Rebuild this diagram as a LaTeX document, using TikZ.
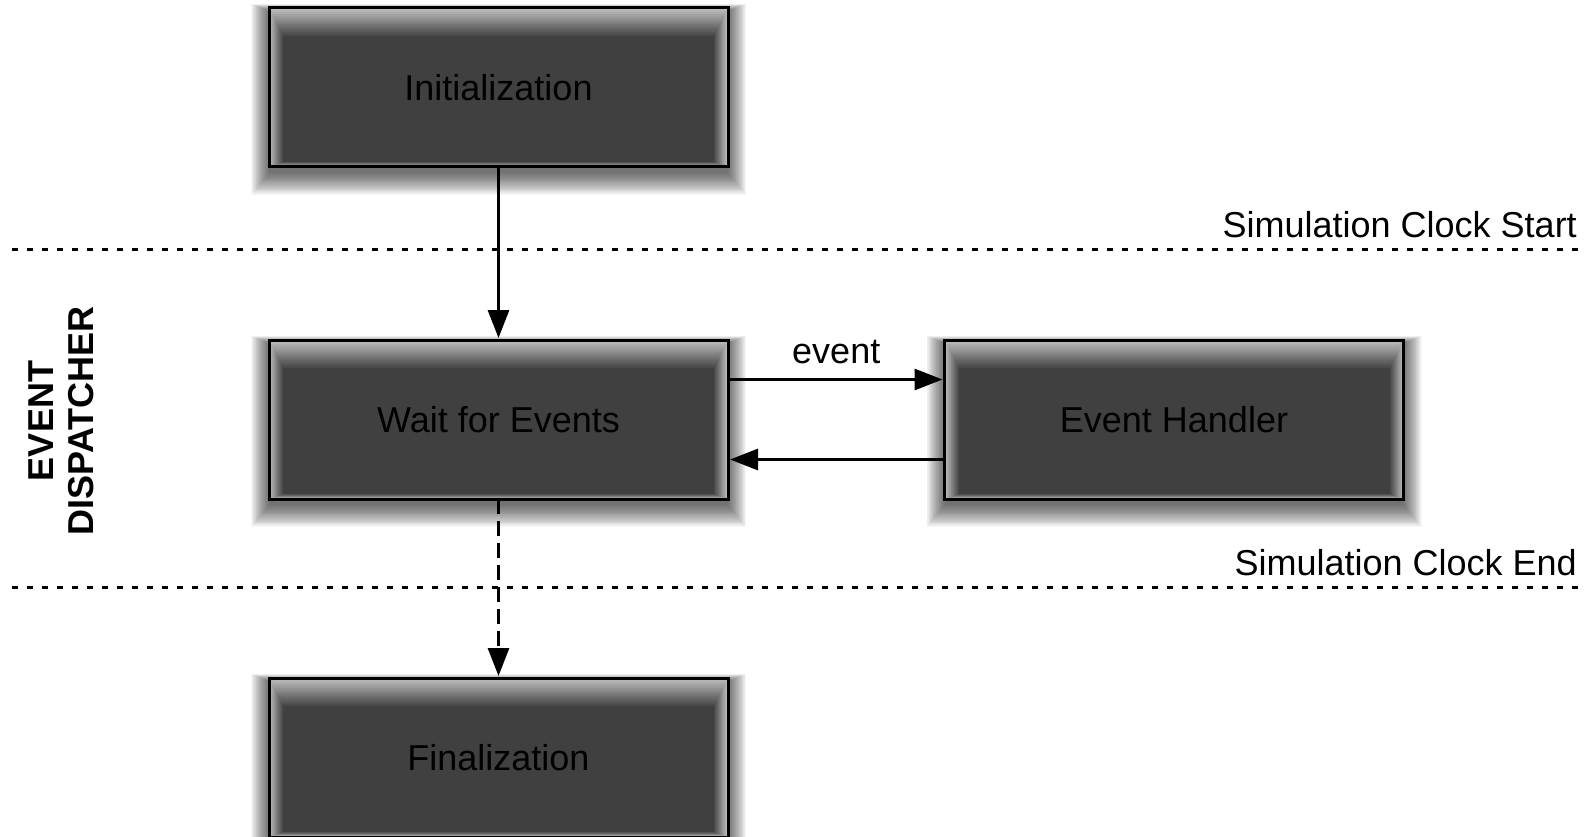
\documentclass[tikz,border=0pt]{standalone}
\usepackage{fontspec}
\setmainfont{Liberation Sans}
\usetikzlibrary{arrows.meta}
\pgfdeclarelayer{background}
\pgfsetlayers{background,main}
\definecolor{boxgray}{RGB}{64,64,64}
\definecolor{glowgray}{RGB}{190,190,190}
\tikzset{
  stagebox/.style={draw=black, line width=3pt, minimum width=459pt, minimum height=159pt,
    inner sep=0pt, outer sep=0pt, text=black, font=\fontsize{36}{42}\selectfont},
  flow/.style={line width=3pt, -{Triangle[length=28pt,width=21pt]}, shorten >=2pt},
  clockline/.style={line width=3pt, dash pattern=on 6pt off 9pt},
  clocklabel/.style={anchor=base east, inner sep=0pt, font=\fontsize{36}{42}\selectfont}
}

\begin{document}
\begin{tikzpicture}[x=1pt, y=-1pt]
  \useasboundingbox (0,0) rectangle (1595,837);
  % stages
  \node[stagebox] (init) at (498.5,87.5) {Initialization};
  \node[stagebox] (wait) at (498.5,419.5) {Wait for Events};
  \node[stagebox] (handler) at (1174,419.5) {Event Handler};
  \node[stagebox] (final) at (498.5,757.5) {Finalization};
  \begin{pgfonlayer}{background}
    \foreach \n in {init,wait,handler,final} {
      \foreach \i in {0,...,24}
        \fill[black, opacity=0.032] ([shift={(-18+0.75*\i,-4+0.3*\i)}]\n.north west) rectangle ([shift={(18-0.75*\i,28-0.9*\i)}]\n.south east); % drop shadow
      \foreach \i in {0,...,14} {
        \pgfmathtruncatemacro\mix{100*\i/14}
        \fill[boxgray!\mix!glowgray] ([shift={(1*\i,2*\i)}]\n.north west) rectangle ([shift={(-1*\i,-0.35*\i)}]\n.south east); % inner glow
      }
    }
  \end{pgfonlayer}
  % clock lines
  \coordinate (startL) at (12,249);
  \coordinate (startR) at (1578,249);
  \coordinate (endL) at (12,587);
  \coordinate (endR) at (1578,587);
  \draw[clockline] (startL) -- (startR);
  \draw[clockline] (endL) -- (endR);
  \node[clocklabel] (startlabel) at (1577,237) {Simulation Clock Start};
  \node[clocklabel] (endlabel) at (1577,575) {Simulation Clock End};
  % side label
  \node[rotate=90, align=center, font=\bfseries\fontsize{36}{40}\selectfont] (dispatcher) at (61,421) {EVENT\\DISPATCHER};
  % arrows
  \draw[flow] (init) -- (wait);
  \draw[flow] ([yshift=40pt]wait.east) -- node[above, inner sep=14pt, font=\fontsize{36}{42}\selectfont] (eventlabel) {event} ([yshift=40pt]handler.west);
  \draw[flow] ([yshift=-40pt]handler.west) -- ([yshift=-40pt]wait.east);
  \draw[flow, dash pattern=on 15pt off 7pt] (wait) -- (final);
\end{tikzpicture}
\end{document}
